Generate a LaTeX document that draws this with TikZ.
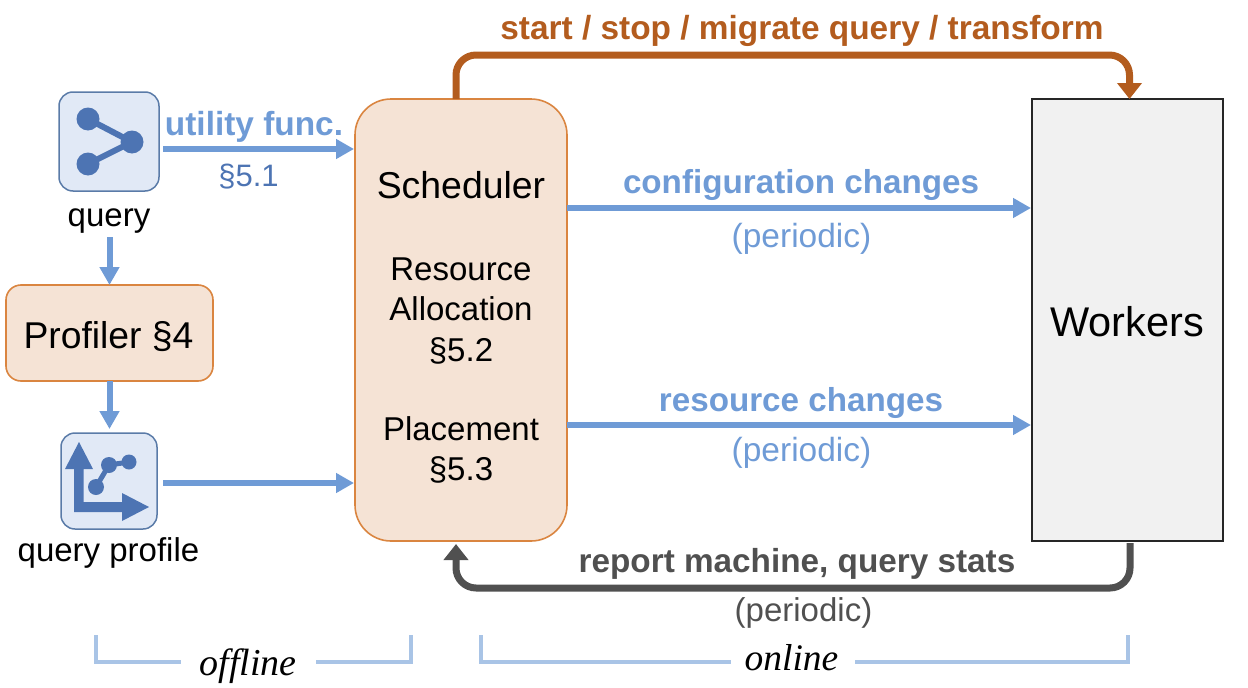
\documentclass[tikz,border=0pt]{standalone}
\usepackage{fontspec}
\setmainfont{Liberation Sans}
\newfontfamily\serifit{Liberation Serif}
\usetikzlibrary{arrows.meta}
\definecolor{flowblue}{HTML}{6F9BD6}
\definecolor{deepblue}{HTML}{4D74B3}
\definecolor{iconfill}{HTML}{E1E9F6}
\definecolor{iconline}{HTML}{5A7BA8}
\definecolor{peach}{HTML}{F5E3D5}
\definecolor{peachline}{HTML}{DA8540}
\definecolor{brownline}{HTML}{B35C1E}
\definecolor{greyline}{HTML}{505050}
\definecolor{workfill}{HTML}{F1F1F1}
\definecolor{bracketblue}{HTML}{A9C4E6}
\newcommand\fsz[1]{\fontsize{#1}{#1}\selectfont}
\tikzset{
  txt/.style={anchor=base,inner sep=0pt,outer sep=0pt,font=\fsz{#1}},
  txt/.default=33,
  lblue/.style={txt=33,text=flowblue,font=\fsz{33.2}\bfseries},
  pblue/.style={txt=33.5,text=flowblue},
  icon/.style={draw=iconline,fill=iconfill,line width=1.5pt,rounded corners=14pt,inner sep=0pt,outer sep=0pt},
  peachbox/.style={draw=peachline,fill=peach,line width=1.6pt,inner sep=0pt,outer sep=0pt},
  flow/.style={draw=flowblue,line width=6pt,-{Triangle[length=18pt,width=19pt]}},
  thick brown/.style={draw=brownline,line width=7pt,rounded corners=20pt,-{Triangle[length=16pt,width=24pt]}},
  thick grey/.style={draw=greyline,line width=7pt,rounded corners=20pt,-{Triangle[length=16pt,width=24pt]}},
  bracket/.style={draw=bracketblue,line width=4pt},
  glyph/.style={fill=deepblue,draw=none},
  glyphline/.style={draw=deepblue,line width=6pt},
}
\begin{document}
\begin{tikzpicture}[x=1pt,y=-1pt]
\useasboundingbox (0,0) rectangle (1248,688);
% boxes
\node[icon,minimum width=100pt,minimum height=99pt] (qicon) at (109,141.5) {};
\node[icon,minimum width=96pt,minimum height=96pt] (picon) at (109,481) {};
\node[peachbox,rounded corners=15pt,minimum width=207pt,minimum height=96pt] (profiler) at (109.5,333) {};
\node[peachbox,rounded corners=36pt,minimum width=212pt,minimum height=442pt] (sched) at (461,320) {};
\node[draw=black!85,fill=workfill,line width=2pt,inner sep=0pt,outer sep=0pt,minimum width=191pt,minimum height=442pt] (workers) at (1127.5,320) {};
% query glyph
\draw[glyphline] (88,119) -- (132,142) -- (88,164);
\fill[glyph] (88,119) circle (11.5pt) (132,142) circle (11.5pt) (88,164) circle (11.5pt);
% profile glyph
\fill[glyph] (74,512) -- (74,469) -- (65,469) -- (79,442) -- (93,469) -- (83.5,469) -- (83.5,502) -- (122,502) -- (122,493) -- (149,507) -- (122,521) -- (122,512) -- cycle;
\draw[draw=deepblue,line width=5pt] (96,487) -- (109,465) -- (129,462);
\fill[glyph] (96,487) circle (8pt) (109,465) circle (8pt) (129,462) circle (7.5pt);
% texts
\node[txt=33] (qlabel) at (109,226) {query};
\node[txt=33] (plabel) at (108.5,561) {query profile};
\node[txt=37.3] (proftext) at (108.5,348) {Profiler §4};
\node[txt=37.4] (schedtext) at (461,198) {Scheduler};
\node[txt=33] (res1) at (461,280) {Resource};
\node[txt=33] (res2) at (461,320) {Allocation};
\node[txt=33] (res3) at (461,361) {§5.2};
\node[txt=33] (pl1) at (461,440) {Placement};
\node[txt=33] (pl2) at (461,480) {§5.3};
\node[txt=41.5] (worktext) at (1127,336) {Workers};
\node[lblue,font=\fsz{33.4}\bfseries] (util) at (254,135) {utility func.};
\node[txt=31,text=deepblue] (sec51) at (248.5,186) {§5.1};
\node[lblue] (conf) at (801,193) {configuration changes};
\node[pblue] (per1) at (801.5,247) {(periodic)};
\node[lblue] (resch) at (801,411) {resource changes};
\node[pblue] (per2) at (801.5,461) {(periodic)};
\node[txt=33,text=brownline,font=\fsz{33.4}\bfseries] (start) at (802,39.5) {start / stop / migrate query / transform};
\node[txt=33,text=greyline,font=\fsz{33.3}\bfseries] (report) at (797,572) {report machine, query stats};
\node[txt=33,text=greyline] (per3) at (803.5,621) {(periodic)};
\node[txt=38,font=\fsz{38}\serifit\itshape] (offl) at (248,675) {offline};
\node[txt=38,font=\fsz{37.5}\serifit\itshape] (onl) at (791.5,670) {online};
% connectors
\coordinate (qgap) at (109.5,237);
\draw[flow] ([xshift=4pt,yshift=-7.5pt]qicon.east) -- ([yshift=171pt,xshift=-1pt]sched.west);
\draw[flow] ([xshift=6pt,yshift=-2pt]picon.east) -- ([yshift=-163pt,xshift=-1pt]sched.west);
\draw[flow] (qgap) -- (profiler.north);
\draw[flow] (profiler.south) -- ([xshift=0.5pt,yshift=4pt]picon.north);
\draw[flow] ([yshift=112pt]sched.east) -- ([yshift=112pt,xshift=-1pt]workers.west);
\draw[flow] ([yshift=-105pt]sched.east) -- ([yshift=-105pt,xshift=-1pt]workers.west);
\draw[thick brown] ([xshift=-5pt]sched.north) -- ++(0,-44) -| ([xshift=2pt]workers.north);
\draw[thick grey] ([xshift=2.5pt,yshift=-2pt]workers.south) -- ++(0,45) -| ([xshift=-5pt,yshift=-3pt]sched.south);
% brackets
\coordinate (off1) at (96,635);
\coordinate (off2) at (411,635);
\coordinate (on1) at (481,635);
\coordinate (on2) at (1128,635);
\coordinate (brk) at (0,662);
\draw[bracket] (off1) |- ([xshift=-18pt]offl.west |- brk);
\draw[bracket] (off2) |- ([xshift=19pt]offl.east |- brk);
\draw[bracket] (on1) |- ([xshift=-14pt]onl.west |- brk);
\draw[bracket] (on2) |- ([xshift=17pt]onl.east |- brk);
\end{tikzpicture}
\end{document}
